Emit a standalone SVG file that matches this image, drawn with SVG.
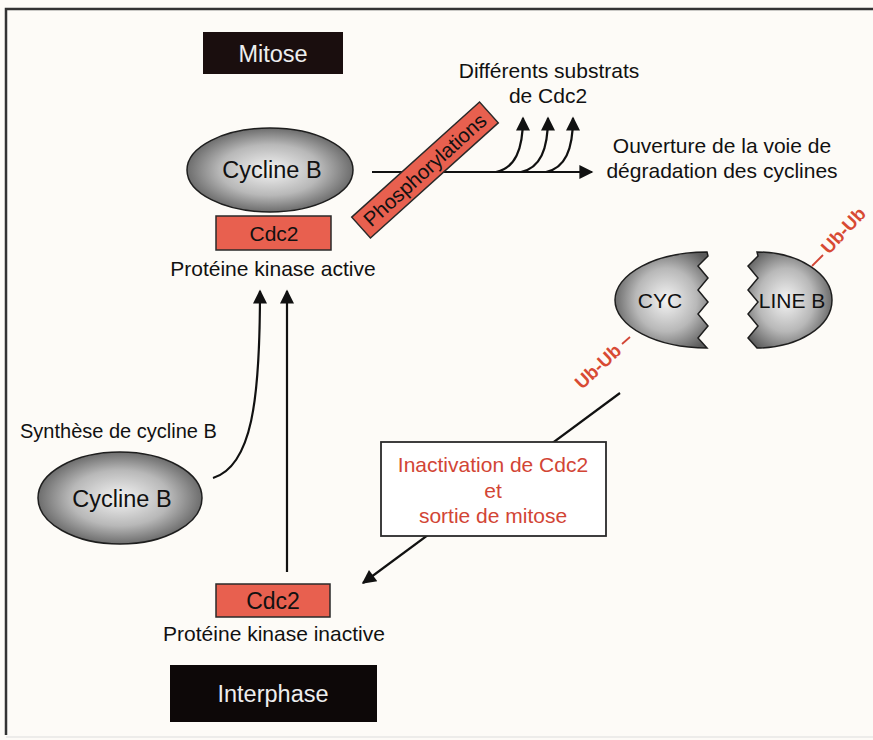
<svg xmlns="http://www.w3.org/2000/svg" width="873" height="740" viewBox="0 0 873 740">
<defs>
<radialGradient id="gball" cx="0.5" cy="0.5" r="0.55">
<stop offset="0" stop-color="#f4f4f4"/>
<stop offset="0.55" stop-color="#b8b8b8"/>
<stop offset="1" stop-color="#5a5a5a"/>
</radialGradient>
<radialGradient id="gcyc" cx="0.55" cy="0.5" r="0.6">
<stop offset="0" stop-color="#f4f4f4"/>
<stop offset="0.55" stop-color="#b8b8b8"/>
<stop offset="1" stop-color="#5a5a5a"/>
</radialGradient>
<radialGradient id="gline" cx="0.45" cy="0.5" r="0.6">
<stop offset="0" stop-color="#f4f4f4"/>
<stop offset="0.55" stop-color="#b8b8b8"/>
<stop offset="1" stop-color="#5a5a5a"/>
</radialGradient>
<marker id="ah" viewBox="0 0 10 10" refX="9" refY="5" markerWidth="16" markerHeight="14" markerUnits="userSpaceOnUse" orient="auto">
<path d="M0,0 L10,5 L0,10 z" fill="#111"/>
</marker>
</defs>
<style>
text { font-family: "Liberation Sans", Arial, sans-serif; fill: #111; }
.lbl { font-size: 21px; }
.big { font-size: 23.5px; }
.red { fill: #d24535; }
.cdc { fill: #e8604f; stroke: #2a2a2a; stroke-width: 1.5; }
.dark { fill: #1a0e0e; }
.ell { fill: url(#gball); stroke: #1e1e1e; stroke-width: 1.5; }
.con { fill: none; stroke: #111; stroke-width: 2.2; }
.ub { fill: none; stroke: #d24535; stroke-width: 1.8; }
.ubt { font-size: 18.5px; font-weight: bold; fill: #d84a33; }
</style>
<rect width="873" height="740" fill="#fdfbf7"/>
<path d="M873,9 H6 V735" fill="none" stroke="#333" stroke-width="2.5"/>
<line x1="6" y1="737" x2="873" y2="737" stroke="#ddd" stroke-width="1"/>

<g id="connectors">
<path class="con" d="M213,478 C252,466 260,400 260,291" marker-end="url(#ah)"/>
<path class="con" d="M287,572 V291" marker-end="url(#ah)"/>
<path class="con" d="M372,172 H592" marker-end="url(#ah)"/>
<path class="con" d="M496,172 C515,168 523,150 523,118" marker-end="url(#ah)"/>
<path class="con" d="M521,172 C540,168 548,150 548,118" marker-end="url(#ah)"/>
<path class="con" d="M546,172 C565,168 573,150 573,118" marker-end="url(#ah)"/>
<path class="con" d="M620,393 L363,583" marker-end="url(#ah)"/>
</g>

<g id="mitose">
<rect class="dark" x="203" y="32" width="140" height="42"/>
<text x="273" y="62" text-anchor="middle" style="fill:#eee;font-size:23.5px">Mitose</text>
</g>

<g id="active-complex">
<ellipse class="ell" cx="270" cy="170" rx="83" ry="42"/>
<text x="272" y="178" text-anchor="middle" class="big">Cycline B</text>
<rect class="cdc" x="216" y="216" width="115" height="34"/>
<text x="274" y="241" text-anchor="middle" style="font-size:21px">Cdc2</text>
<text x="273" y="276" text-anchor="middle" class="lbl">Protéine kinase active</text>
</g>

<g id="phospho">
<g transform="translate(425,170) rotate(-42)">
<rect class="cdc" x="-86" y="-14" width="172" height="28"/>
<text x="0" y="7" text-anchor="middle" style="font-size:20.5px">Phosphorylations</text>
</g>
</g>

<g id="substrats">
<text x="549" y="78" text-anchor="middle" class="lbl">Différents substrats</text>
<text x="548" y="103" text-anchor="middle" class="lbl">de Cdc2</text>
</g>

<g id="ouverture">
<text x="722" y="153" text-anchor="middle" class="lbl">Ouverture de la voie de</text>
<text x="722" y="178" text-anchor="middle" class="lbl">dégradation des cyclines</text>
</g>

<g id="cyc">
<path d="M707,252 A92,48 0 0 0 707,348 L698,338 L708,326 L698,314 L708,302 L698,290 L708,278 L698,266 L708,256 Z" fill="url(#gcyc)" stroke="#1e1e1e" stroke-width="1.5"/>
<text x="660" y="308" text-anchor="middle" class="lbl">CYC</text>
<line class="ub" x1="630" y1="337" x2="622" y2="344"/>
<text transform="translate(582,390) rotate(-43)" class="ubt">Ub-Ub</text>
</g>

<g id="lineb">
<path d="M757,252 A75,48 0 0 1 757,348 L748,338 L758,326 L748,314 L758,302 L748,290 L758,278 L748,266 L758,256 Z" fill="url(#gline)" stroke="#1e1e1e" stroke-width="1.5"/>
<text x="792" y="308" text-anchor="middle" class="lbl">LINE B</text>
<line class="ub" x1="812" y1="266" x2="823" y2="255"/>
<text transform="translate(829,255) rotate(-47)" class="ubt">Ub-Ub</text>
</g>

<g id="inactivation">
<rect x="381" y="442" width="225" height="94" fill="#fff" stroke="#2a2a2a" stroke-width="1.8"/>
<text x="493" y="472" text-anchor="middle" class="lbl red">Inactivation de Cdc2</text>
<text x="493" y="498" text-anchor="middle" class="lbl red">et</text>
<text x="493" y="523" text-anchor="middle" class="lbl red">sortie de mitose</text>
</g>

<g id="synthese">
<text x="20" y="438" style="font-size:20px">Synthèse de cycline B</text>
<ellipse class="ell" cx="120" cy="498" rx="82" ry="46"/>
<text x="122" y="507" text-anchor="middle" class="big">Cycline B</text>
</g>

<g id="inactive">
<rect class="cdc" x="216" y="584" width="114" height="33"/>
<text x="273" y="609" text-anchor="middle" style="font-size:23px">Cdc2</text>
<text x="274" y="641" text-anchor="middle" class="lbl">Protéine kinase inactive</text>
</g>

<g id="interphase">
<rect x="170" y="665" width="207" height="57" fill="#0d0808"/>
<text x="273" y="702" text-anchor="middle" style="fill:#eee;font-size:23.5px">Interphase</text>
</g>
</svg>
